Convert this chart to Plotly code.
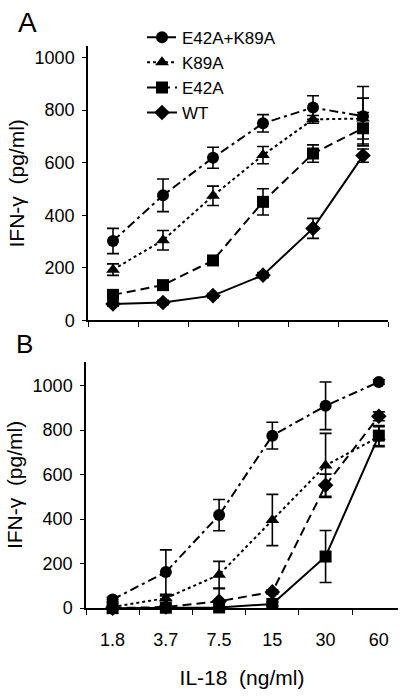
import plotly.graph_objects as go

# ---------------- data ----------------
categories = ["1.8", "3.7", "7.5", "15", "30", "60"]
series_names = ["E42A+K89A", "K89A", "E42A", "WT"]

# Panel A
a_e42a_k89a = [302, 476, 619, 750, 810, 777]
a_e42a_k89a_err = [48, 62, 40, 33, 45, 113]
a_k89a = [193, 305, 474, 629, 765, 768]
a_k89a_err = [22, 37, 37, 33, 15, 78]
a_e42a = [97, 134, 228, 451, 635, 731]
a_e42a_err = [12, 10, 12, 50, 33, 60]
a_wt = [62, 68, 94, 172, 350, 627]
a_wt_err = [8, 8, 8, 10, 38, 25]

# Panel B
b_e42a_k89a = [39, 162, 418, 775, 909, 1016]
b_e42a_k89a_err = [10, 100, 70, 60, 107, 10]
b_k89a = [5, 45, 150, 396, 641, 770]
b_k89a_err = [5, 10, 60, 115, 144, 45]
b_e42a = [0, 2, 3, 19, 232, 775]
b_e42a_err = [3, 3, 5, 8, 117, 45]
b_wt = [0, 5, 31, 73, 552, 862]
b_wt_err = [3, 5, 56, 10, 50, 20]

# ---------------- styles ----------------
FONT = "Liberation Sans, Arial, sans-serif"
DASH_DOT = "9px,4px,3px,4px"
SHORT = "3px,3px"
LONG = "9px,5px"

symbols = ["circle", "triangle-up", "square", "diamond"]
msizes = [12, 12, 12, 12]
dash_a = [DASH_DOT, SHORT, LONG, "solid"]
dash_b = [DASH_DOT, SHORT, "solid", LONG]

panel_a = [(a_e42a_k89a, a_e42a_k89a_err), (a_k89a, a_k89a_err),
           (a_e42a, a_e42a_err), (a_wt, a_wt_err)]
panel_b = [(b_e42a_k89a, b_e42a_k89a_err), (b_k89a, b_k89a_err),
           (b_e42a, b_e42a_err), (b_wt, b_wt_err)]

fig = go.Figure()

for i, (vals, errs) in enumerate(panel_a):
    fig.add_trace(go.Scatter(
        x=categories, y=vals, name=series_names[i], mode="lines+markers",
        line=dict(color="black", width=2, dash=dash_a[i]),
        marker=dict(symbol=symbols[i], size=msizes[i], color="black"),
        error_y=dict(type="data", array=errs, visible=True, color="black",
                     thickness=1.6, width=6),
        xaxis="x", yaxis="y", showlegend=True, cliponaxis=False,
    ))

for i, (vals, errs) in enumerate(panel_b):
    fig.add_trace(go.Scatter(
        x=categories, y=vals, name=series_names[i], mode="lines+markers",
        line=dict(color="black", width=2, dash=dash_b[i]),
        marker=dict(symbol=symbols[i], size=msizes[i], color="black"),
        error_y=dict(type="data", array=errs, visible=True, color="black",
                     thickness=1.6, width=6),
        xaxis="x2", yaxis="y2", showlegend=False, cliponaxis=False,
    ))

W, H = 407, 698

axis_common = dict(showgrid=False, zeroline=False, showline=True,
                   linecolor="black", linewidth=1.5, ticks="outside",
                   tickcolor="black", tickwidth=1.2,
                   tickfont=dict(family=FONT, size=18, color="black"))

fig.update_layout(
    width=W, height=H,
    margin=dict(l=0, r=0, t=0, b=0),
    paper_bgcolor="white", plot_bgcolor="white",
    font=dict(family=FONT, color="black"),
    xaxis=dict(**axis_common, domain=[88 / W, 388 / W], anchor="y",
               type="category", categoryorder="array", categoryarray=categories,
               range=[-0.5, 5.5], tickson="boundaries", ticklen=5,
               showticklabels=False),
    yaxis=dict(**axis_common, domain=[(H - 325) / H, (H - 47) / H], anchor="x",
               range=[0, 1043], tickvals=[0, 200, 400, 600, 800, 1000],
               ticklen=4, ticklabelstandoff=4,
               title=dict(text="IFN-\u03b3  (pg/ml)", standoff=4,
                          font=dict(family=FONT, size=21, color="black"))),
    xaxis2=dict(**axis_common, domain=[86 / W, 398 / W], anchor="y2",
                type="category", categoryorder="array", categoryarray=categories,
                range=[-0.5, 5.36], tickson="boundaries", ticklen=5,
                ticklabelstandoff=14,
                title=dict(text="IL-18  (ng/ml)", standoff=22,
                           font=dict(family=FONT, size=21, color="black"))),
    yaxis2=dict(**axis_common, domain=[(H - 617) / H, (H - 367) / H], anchor="x2",
                range=[0, 1107], tickvals=[0, 200, 400, 600, 800, 1000],
                ticklen=4, ticklabelstandoff=4,
                title=dict(text="IFN-\u03b3  (pg/ml)", standoff=4,
                           font=dict(family=FONT, size=21, color="black"))),
    legend=dict(x=142 / W, y=1 - 20 / H, xanchor="left", yanchor="top",
                bgcolor="rgba(0,0,0,0)", borderwidth=0, tracegroupgap=0,
                font=dict(family=FONT, size=17, color="black")),
    annotations=[
        dict(text="A", x=16 / W, y=1 - 5 / H, xref="paper", yref="paper",
             xanchor="left", yanchor="top", showarrow=False,
             font=dict(family=FONT, size=28, color="black")),
        dict(text="B", x=14 / W, y=1 - 332 / H, xref="paper", yref="paper",
             xanchor="left", yanchor="top", showarrow=False,
             font=dict(family=FONT, size=26, color="black")),
    ],
)

fig.write_html("out.html", include_plotlyjs=True,
               config={"displayModeBar": False},
               post_script="document.body.style.margin='0';")
